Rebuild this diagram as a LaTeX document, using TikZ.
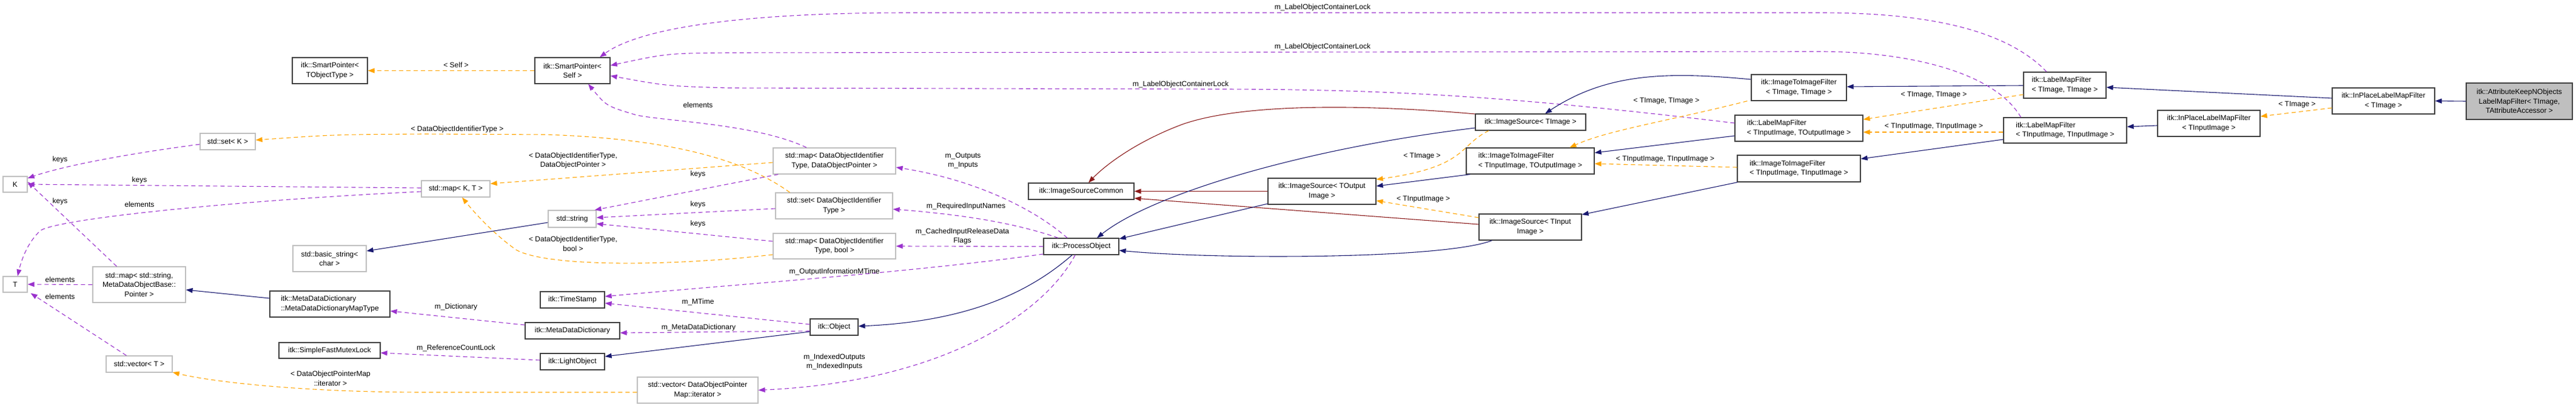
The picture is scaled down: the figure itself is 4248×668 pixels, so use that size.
\documentclass[tikz,border=0pt]{standalone}
\usepackage{fontspec}
\setmainfont{Liberation Sans}
\usetikzlibrary{arrows.meta}
\definecolor{cpur}{HTML}{9A32CD}
\definecolor{corg}{HTML}{FFA500}
\definecolor{cnav}{HTML}{191970}
\definecolor{cred}{HTML}{8B1A1A}
\begin{document}
\begin{tikzpicture}[x=1pt,y=-1pt,
  bx/.style={draw=black!75,line width=1.2pt,fill=white,inner sep=1pt,font=\fontsize{12}{15.5}\selectfont,align=center},
  gx/.style={bx,draw=black!25},
  lbl/.style={font=\fontsize{12}{15.5}\selectfont,align=center,inner sep=0pt},
  tip/.style={-{Triangle[length=11pt,width=8pt]}},
  use/.style={tip,draw=cpur,line width=1.1pt,dash pattern=on 7pt off 5pt},
  tpl/.style={tip,draw=corg,line width=1.1pt,dash pattern=on 7pt off 5pt},
  inh/.style={tip,draw=cnav,line width=1.1pt},
  prt/.style={tip,draw=cred,line width=1.1pt}]
\useasboundingbox (0,0) rectangle (4248,668);
\fill[white] (0,0) rectangle (4248,668);
% nodes
\node[bx,minimum width=124,minimum height=43] (spt) at (544,116.5) {itk::SmartPointer<\\TObjectType >};
\node[gx,minimum width=91,minimum height=27] (setk) at (375.5,233.5) {std::set< K >};
\node[gx,minimum width=40,minimum height=26] (k) at (25,304) {K};
\node[gx,minimum width=40,minimum height=26] (t) at (25,469) {T};
\node[gx,minimum width=153,minimum height=59] (mapsm) at (229.5,469.5) {std::map< std::string,\\MetaDataObjectBase::\\Pointer >};
\node[gx,minimum width=121,minimum height=43] (bstr) at (543.5,426.5) {std::basic\_string<\\char >};
\node[bx,minimum width=198,minimum height=43,align=left] (mddmt) at (544,501.5) {itk::MetaDataDictionary\\::MetaDataDictionaryMapType};
\node[bx,minimum width=167,minimum height=26] (sfml) at (543.5,578) {itk::SimpleFastMutexLock};
\node[gx,minimum width=109,minimum height=27] (vect) at (229.5,600.5) {std::vector< T >};
\node[bx,minimum width=124,minimum height=43] (sps) at (944,116.5) {itk::SmartPointer<\\Self >};
\node[gx,minimum width=113,minimum height=27] (mapkt) at (751.5,311.5) {std::map< K, T >};
\node[gx,minimum width=79,minimum height=28] (str) at (943.5,361) {std::string};
\node[bx,minimum width=106,minimum height=27] (ts) at (944,494.5) {itk::TimeStamp};
\node[bx,minimum width=156,minimum height=27] (mdd) at (944,545.5) {itk::MetaDataDictionary};
\node[bx,minimum width=106,minimum height=27] (lo) at (944,596.5) {itk::LightObject};
\node[gx,minimum width=199,minimum height=43] (vecd) at (1150.5,643.5) {std::vector< DataObjectPointer\\Map::iterator >};
\node[gx,minimum width=202,minimum height=43] (mapdp) at (1376,265.5) {std::map< DataObjectIdentifier\\Type, DataObjectPointer >};
\node[gx,minimum width=193,minimum height=43] (setd) at (1375.5,339.5) {std::set< DataObjectIdentifier\\Type >};
\node[gx,minimum width=202,minimum height=42] (mapdb) at (1376,406) {std::map< DataObjectIdentifier\\Type, bool >};
\node[bx,minimum width=174,minimum height=27] (isc) at (1783,315.5) {itk::ImageSourceCommon};
\node[bx,minimum width=124,minimum height=27] (po) at (1783,406.5) {itk::ProcessObject};
\node[bx,minimum width=79,minimum height=27] (obj) at (1375.5,539.5) {itk::Object};
\node[bx,minimum width=182,minimum height=27] (ist) at (2524,201.5) {itk::ImageSource< TImage >};
\node[bx,minimum width=211,minimum height=43,align=left] (itiio) at (2523.5,265.5) {itk::ImageToImageFilter\\< TInputImage, TOutputImage >};
\node[bx,minimum width=178,minimum height=43] (iso) at (2180,315.5) {itk::ImageSource< TOutput\\Image >};
\node[bx,minimum width=169,minimum height=43] (isi) at (2523.5,374.5) {itk::ImageSource< TInput\\Image >};
\node[bx,minimum width=157,minimum height=43] (itit) at (2966.5,144.5) {itk::ImageToImageFilter\\< TImage, TImage >};
\node[bx,minimum width=211,minimum height=43,align=left] (lmfio) at (2966.5,211.5) {itk::LabelMapFilter\\< TInputImage, TOutputImage >};
\node[bx,minimum width=203,minimum height=44,align=left] (itiii) at (2966.5,278) {itk::ImageToImageFilter\\< TInputImage, TInputImage >};
\node[bx,minimum width=136,minimum height=43,align=left] (lmft) at (3405,140.5) {itk::LabelMapFilter\\< TImage, TImage >};
\node[bx,minimum width=203,minimum height=42,align=left] (lmfii) at (3405.5,215) {itk::LabelMapFilter\\< TInputImage, TInputImage >};
\node[bx,minimum width=169,minimum height=43] (ipli) at (3642.5,203.5) {itk::InPlaceLabelMapFilter\\< TInputImage >};
\node[bx,minimum width=169,minimum height=43] (iplt) at (3930.5,166.5) {itk::InPlaceLabelMapFilter\\< TImage >};
\node[bx,fill=black!25,minimum width=175,minimum height=60] (akn) at (4154.5,167) {itk::AttributeKeepNObjects\\LabelMapFilter< TImage,\\TAttributeAccessor >};
% edges
\draw[inh] (akn.west) -- (iplt.east);
\draw[inh] ([yshift=4.5pt]iplt.west) -- ([yshift=-3.5pt]lmft.east);
\draw[tpl] ([yshift=-11.5pt]iplt.west) -- ([yshift=11.5pt]ipli.east);
\node[lbl] (l1) at (3788,173) {< TImage >};
\draw[inh] ([yshift=-3.5pt]ipli.west) -- ([yshift=6pt]lmfii.east);
\draw[inh] ([yshift=-0.5pt]lmft.west) -- ([yshift=1.5pt]itit.east);
\draw[tpl] ([yshift=-15.5pt]lmft.west) -- ([yshift=14.5pt]lmfio.east);
\node[lbl] (l2) at (3189,157) {< TImage, TImage >};
\draw[tpl] ([yshift=-3pt]lmfii.west) -- ([yshift=-6.5pt]lmfio.east);
\node[lbl] (l3) at (3189,209) {< TInputImage, TInputImage >};
\draw[inh] ([yshift=-15pt]lmfii.west) -- ([yshift=16pt]itiii.east);
\draw[use] ([xshift=-30pt]lmft.north) .. controls (3300,40) and (3150,21) .. (3000,21) -- (1500,21) .. controls (1200,21) and (1050,50) .. ([xshift=45pt]sps.north);
\node[lbl] (l4) at (2181,12) {m\_LabelObjectContainerLock};
\draw[use] ([xshift=-73pt]lmfii.north) .. controls (3290,120) and (3150,85) .. (3000,85) -- (1200,87) .. controls (1100,88) .. ([yshift=8.5pt]sps.east);
\node[lbl] (l5) at (2181,77) {m\_LabelObjectContainerLock};
\draw[use] ([yshift=8.5pt]lmfio.west) .. controls (2500,160) and (2300,147) .. (2000,147) -- (1200,145) .. controls (1100,142) .. ([yshift=-8.5pt]sps.east);
\node[lbl] (l6) at (1947,139) {m\_LabelObjectContainerLock};
\draw[inh] ([yshift=13.5pt]itit.west) .. controls (2750,118) and (2650,120) .. ([xshift=24pt]ist.north);
\draw[tpl] ([xshift=-6pt]itit.south west) .. controls (2750,200) and (2650,215) .. ([xshift=65pt]itiio.north);
\node[lbl] (l7) at (2748,167) {< TImage, TImage >};
\draw[inh] ([yshift=-12.5pt]lmfio.west) -- ([yshift=13.5pt]itiio.east);
\draw[tpl] ([yshift=2pt]itiii.west) -- ([yshift=-4.5pt]itiio.east);
\node[lbl] (l8) at (2746,263) {< TInputImage, TInputImage >};
\draw[inh] ([xshift=1pt]itiii.south west) -- ([yshift=20.5pt]isi.east);
\draw[inh] ([xshift=7pt]itiio.south west) -- ([yshift=8.5pt]iso.east);
\draw[tpl] ([xshift=-69pt]ist.south) .. controls (2405,240) and (2420,275) .. ([yshift=19.5pt]iso.east);
\node[lbl] (l9) at (2345,258) {< TImage >};
\draw[tpl] ([yshift=15.5pt]isi.west) -- ([yshift=-15.5pt]iso.east);
\node[lbl] (l10) at (2347,329) {< TInputImage >};
\draw[prt] ([yshift=13.5pt]ist.west) .. controls (2250,172) and (2050,170) .. (1950,205) .. controls (1870,235) and (1820,275) .. ([xshift=12pt]isc.north);
\draw[prt] (iso.west) -- (isc.east);
\draw[prt] ([yshift=4.5pt]isi.west) -- ([yshift=-11.5pt]isc.east);
\draw[inh] ([yshift=-9.5pt]ist.west) .. controls (2150,245) and (1900,320) .. ([xshift=26pt]po.north);
\draw[inh] ([yshift=-20.5pt]iso.west) -- ([yshift=12.5pt]po.east);
\draw[inh] ([xshift=-63pt]isi.south) .. controls (2380,428) and (2000,428) .. ([yshift=-6.5pt]po.east);
\draw[use] ([xshift=-23pt]po.north) .. controls (1700,340) and (1600,295) .. ([yshift=-10.5pt]mapdp.east);
\node[lbl] (l11) at (1588,265) {m\_Outputs\\m\_Inputs};
\draw[use] ([xshift=-38pt]po.north) .. controls (1680,370) and (1600,355) .. ([yshift=-5.5pt]setd.east);
\node[lbl] (l12) at (1593,340) {m\_RequiredInputNames};
\draw[use] (po.west) -- (mapdb.east);
\node[lbl] (l13) at (1587,390) {m\_CachedInputReleaseData\\Flags};
\draw[use] ([yshift=-12.5pt]po.west) .. controls (1500,450) and (1200,470) .. ([yshift=5.5pt]ts.east);
\node[lbl] (l14) at (1376,448) {m\_OutputInformationMTime};
\draw[inh] ([xshift=-15pt]po.south) .. controls (1700,480) and (1600,530) .. ([yshift=1.5pt]obj.east);
\draw[use] ([xshift=-10pt]po.south) .. controls (1720,520) and (1550,630) .. (vecd.east);
\node[lbl] (l15) at (1376,597) {m\_IndexedOutputs\\m\_IndexedInputs};
\draw[use] ([yshift=4.5pt]obj.west) -- ([yshift=-5.5pt]ts.east);
\node[lbl] (l16) at (1151,498) {m\_MTime};
\draw[use] ([yshift=-6.5pt]obj.west) -- ([yshift=-3.5pt]mdd.east);
\node[lbl] (l17) at (1152,540) {m\_MetaDataDictionary};
\draw[inh] ([yshift=-7.5pt]obj.west) -- ([yshift=8.5pt]lo.east);
\draw[use] ([yshift=2.5pt]lo.west) -- ([yshift=-4pt]sfml.east);
\node[lbl] (l18) at (752,574) {m\_ReferenceCountLock};
\draw[use] ([yshift=9.5pt]mdd.west) -- ([yshift=-11.5pt]mddmt.east);
\node[lbl] (l19) at (752,506) {m\_Dictionary};
\draw[inh] ([yshift=9.5pt]mddmt.west) -- ([yshift=-8.5pt]mapsm.east);
\draw[use] ([xshift=-37pt]mapsm.north) -- ([yshift=4pt]k.east);
\node[lbl] (l20) at (99,332) {keys};
\draw[use] (mapsm.west) -- (t.east);
\node[lbl] (l21) at (99,461) {elements};
\draw[use] ([xshift=-21pt]vect.north) -- ([xshift=5pt,yshift=-1pt]t.south east);
\node[lbl] (l22) at (99,489) {elements};
\draw[tpl] ([yshift=-3.5pt]vecd.west) -- (700,647) .. controls (500,647) and (350,630) .. ([yshift=-13.5pt]vect.east);
\node[lbl] (l23) at (545,624) {< DataObjectPointerMap\\::iterator >};
\draw[use] ([yshift=-4.5pt]setk.west) .. controls (200,255) and (100,275) .. ([yshift=10pt]k.east);
\node[lbl] (l24) at (99,263) {keys};
\draw[use] ([yshift=1.5pt]mapkt.west) -- (k.east);
\node[lbl] (l25) at (230,297) {keys};
\draw[use] ([yshift=-4.5pt]mapkt.west) .. controls (400,330) and (100,360) .. (67,380) .. controls (45,400) and (35,430) .. ([xshift=4pt]t.north);
\node[lbl] (l26) at (230,337) {elements};
\draw[tpl] ([yshift=-2.5pt]mapdp.west) -- ([yshift=8.5pt]mapkt.east);
\node[lbl] (l27) at (945,265) {< DataObjectIdentifierType,\\DataObjectPointer >};
\draw[tpl] ([yshift=-14pt]mapdb.west) .. controls (1100,440) and (900,440) .. (851,412) .. controls (820,390) and (790,360) .. ([xshift=10.5pt]mapkt.south);
\node[lbl] (l28) at (945,402) {< DataObjectIdentifierType,\\bool >};
\draw[tpl] ([xshift=-73pt]setd.north) .. controls (1250,280) and (1150,230) .. (900,222) -- (700,221) .. controls (550,222) .. ([yshift=2.5pt]setk.east);
\node[lbl] (l29) at (754,213) {< DataObjectIdentifierType >};
\draw[use] ([xshift=-46pt]mapdp.north) .. controls (1250,205) and (1100,200) .. (1050,190) .. controls (1000,175) .. ([xshift=26pt]sps.south);
\node[lbl] (l30) at (1151,173) {elements};
\draw[use] ([xshift=9pt]mapdp.south west) -- ([xshift=-3pt]str.north east);
\node[lbl] (l31) at (1151,287) {keys};
\draw[use] ([yshift=-4.5pt]setd.west) -- ([yshift=2pt]str.east);
\node[lbl] (l32) at (1151,337) {keys};
\draw[use] ([yshift=8pt]mapdb.west) -- ([yshift=-8pt]str.east);
\node[lbl] (l33) at (1151,369) {keys};
\draw[inh] ([yshift=-6pt]str.west) -- ([yshift=12.5pt]bstr.east);
\draw[tpl] (sps.west) -- (spt.east);
\node[lbl] (l34) at (752,107) {< Self >};
\end{tikzpicture}
\end{document}
